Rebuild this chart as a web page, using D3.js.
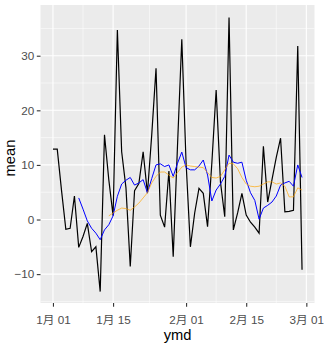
<!DOCTYPE html>
<html><head><meta charset="utf-8">
<script src="https://cdn.jsdelivr.net/npm/d3@7"></script>
<style>body{margin:0;background:#fff}svg{display:block}text{font-family:"Liberation Sans","Noto Sans CJK SC",Arial,sans-serif}</style>
</head><body>
<svg id="c" width="325" height="346"></svg>
<script>
// Data (day index 0 = 1月01)
const startDate = "2017-01-01";
const dailyMean = [12.9,12.9,5.3,-1.8,-1.6,4.3,-5.1,-3.1,-0.7,-5.9,-5.0,-13.2,15.5,7.3,0.7,34.7,12.4,5.8,-8.6,5.3,6.6,12.4,4.8,15.5,27.7,0.8,-1.4,8.9,-6.8,13.5,33.0,10.4,-5.0,1.2,5.7,4.8,-1.3,10.4,23.7,6.9,0.5,37.0,-1.9,1.2,4.8,0.8,-0.5,-1.4,-2.5,13.4,3.2,7.3,11.4,14.9,1.4,1.5,1.7,31.8,-9.2];
const blueStart = 6;
const blueSeries = [3.95,1.9,-0.25,-1.6,-2.5,-3.7,-1.9,-0.96,0.67,4.26,6.5,7.2,7.7,6.3,6.7,7.3,4.9,7.5,10.0,10.2,9.7,10.0,7.9,10.3,12.35,9.5,9.1,9.1,9.8,10.9,8.15,3.4,5.4,6.5,7.9,11.8,10.5,10.3,10.5,7.2,4.9,3.5,0.06,2.1,2.6,3.2,4.3,6.3,6.7,7.0,6.1,10.0,7.7];
const orangeStart = 13;
const orangeSeries = [0.67,1.2,1.7,2.1,2.0,1.7,2.3,3.0,3.95,4.9,6.7,7.9,8.7,8.7,8.15,7.6,8.6,9.6,10.0,9.8,9.7,9.6,9.5,8.6,7.7,7.6,7.9,9.1,10.3,10.2,9.3,7.7,6.5,6.1,6.0,6.1,6.5,6.9,6.9,6.5,6.7,6.1,4.15,4.15,5.8,5.4];
const xTickDates = ["2017-01-01","2017-01-15","2017-02-01","2017-02-15","2017-03-01"];
const xTickLabels = ["1月 01","1月 15","2月 01","2月 15","3月 01"];
const yTicks = [-10,0,10,20,30];
const yMinor = [-15,-5,5,15,25,35];

const day = 864e5;
const t0 = new Date(startDate+"T00:00:00Z");
const dateOf = i => new Date(t0.getTime() + i*day);
const lastDay = dateOf(dailyMean.length-1);
const pad = (lastDay - t0)*0.05;

const L=40.5,R=314.5,T=5,B=303;
const x = d3.scaleUtc().domain([new Date(t0-pad), new Date(+lastDay+pad)]).range([L,R]);
const y = d3.scaleLinear().domain([-15.29,39.29]).range([B,T]);

const svg = d3.select("#c");
svg.append("rect").attr("x",L).attr("y",T).attr("width",R-L).attr("height",B-T).attr("fill","#EBEBEB");

const xt = xTickDates.map(s=>new Date(s+"T00:00:00Z"));
const xMinor = xt.slice(0,-1).map((d,i)=>new Date((+d + +xt[i+1])/2));
const g = svg.append("g");
yMinor.filter(v=>y(v)>T&&y(v)<B).forEach(v=>g.append("line").attr("x1",L).attr("x2",R).attr("y1",y(v)).attr("y2",y(v)).attr("stroke","#fff").attr("stroke-width",0.55));
xMinor.forEach(d=>g.append("line").attr("y1",T).attr("y2",B).attr("x1",x(d)).attr("x2",x(d)).attr("stroke","#fff").attr("stroke-width",0.55));
yTicks.forEach(v=>g.append("line").attr("x1",L).attr("x2",R).attr("y1",y(v)).attr("y2",y(v)).attr("stroke","#fff").attr("stroke-width",1.1));
xt.forEach(d=>g.append("line").attr("y1",T).attr("y2",B).attr("x1",x(d)).attr("x2",x(d)).attr("stroke","#fff").attr("stroke-width",1.1));

const line = d3.line().x(d=>x(d[0])).y(d=>y(d[1]));
const blackPts = dailyMean.map((v,i)=>[dateOf(i),v]);
const bluePts = blueSeries.map((v,i)=>[dateOf(i+blueStart),v]);
const orangePts = orangeSeries.map((v,i)=>[dateOf(i+orangeStart),v]);
svg.append("path").attr("d",line(blackPts)).attr("fill","none").attr("stroke","#000").attr("stroke-width",1.2);
svg.append("path").attr("d",line(bluePts)).attr("fill","none").attr("stroke","#0000FF").attr("stroke-width",1);
svg.append("path").attr("d",line(orangePts)).attr("fill","none").attr("stroke","#FFA500").attr("stroke-width",0.8).attr("opacity",0.85);

// axes
const xAxis = d3.axisBottom(x).tickValues(xt).tickFormat((d,i)=>xTickLabels[i]).tickSize(3.7).tickPadding(2.5);
const gx = svg.append("g").attr("transform",`translate(0,${B})`).call(xAxis);
gx.select(".domain").remove();
gx.selectAll("line").attr("stroke","#333").attr("stroke-width",1.1);
gx.selectAll("text").attr("fill","#4D4D4D").style("font-size","11.7px").attr("dy","0").attr("y",20.5);

const yAxis = d3.axisLeft(y).tickValues(yTicks).tickSize(3.7).tickPadding(2.5);
const gy = svg.append("g").attr("transform",`translate(${L},0)`).call(yAxis);
gy.select(".domain").remove();
gy.selectAll("line").attr("stroke","#333").attr("stroke-width",1.1);
gy.selectAll("text").attr("fill","#4D4D4D").style("font-size","11.7px");

svg.append("text").attr("x",(L+R)/2).attr("y",339.5).attr("text-anchor","middle").style("font-size","14.7px").attr("fill","#000").text("ymd");
svg.append("text").attr("transform",`translate(14.5,${(T+B)/2+4}) rotate(-90)`).attr("text-anchor","middle").style("font-size","14.7px").attr("fill","#000").text("mean");
</script>
</body></html>
